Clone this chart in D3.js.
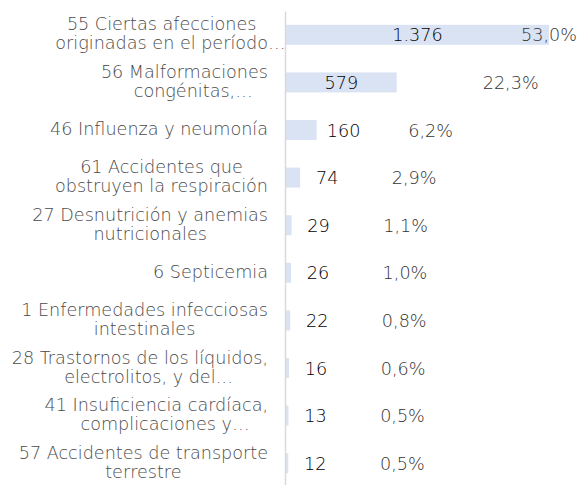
<!DOCTYPE html>
<html>
<head>
<meta charset="utf-8">
<script src="https://cdn.jsdelivr.net/npm/d3@7"></script>
<style>
  body { margin: 0; background: #fff; }
  svg { display: block; font-family: "DejaVu Sans", sans-serif; font-weight: 200; }
</style>
</head>
<body>
<div id="chart"></div>
<script>
// data
var categories = [
  "55 Ciertas afecciones\noriginadas en el período…",
  "56 Malformaciones\ncongénitas,…",
  "46 Influenza y neumonía",
  "61 Accidentes que\nobstruyen la respiración",
  "27 Desnutrición y anemias\nnutricionales",
  "6 Septicemia",
  "1 Enfermedades infecciosas\nintestinales",
  "28 Trastornos de los líquidos,\nelectrolitos, y del…",
  "41 Insuficiencia cardíaca,\ncomplicaciones y…",
  "57 Accidentes de transporte\nterrestre"
];
var values = [1376, 579, 160, 74, 29, 26, 22, 16, 13, 12];
var valueLabels = ["1.376", "579", "160", "74", "29", "26", "22", "16", "13", "12"];
var percentLabels = ["53,0%", "22,3%", "6,2%", "2,9%", "1,1%", "1,0%", "0,8%", "0,6%", "0,5%", "0,5%"];

var width = 588, height = 485;
var fontSize = 17.6, lineH = 19;
var labelRight = 268;

var svg = d3.select("#chart").append("svg")
    .attr("width", width)
    .attr("height", height);

var x = d3.scaleLinear()
    .domain([0, d3.max(values)])
    .range([286, 549]);

var y = d3.scaleBand()
    .domain(d3.range(values.length))
    .range([11, 487])
    .paddingInner(0.58)
    .paddingOuter(0.29);

// bars
svg.selectAll("rect.bar")
    .data(values)
    .enter()
    .append("rect")
    .attr("class", "bar")
    .attr("x", x(0))
    .attr("y", function(d, i) { return y(i); })
    .attr("width", function(d) { return x(d) - x(0); })
    .attr("height", y.bandwidth())
    .style("fill", "#dae3f3");

// vertical axis line, no ticks
var axis = svg.append("g")
    .attr("transform", "translate(" + (x(0) - 1) + ",0)")
    .call(d3.axisLeft(y).tickSize(0).tickSizeOuter(0).tickFormat(""));
axis.select(".domain").attr("stroke", "#d9d9d9").attr("stroke-width", 1.5);

// category labels, multi-line, lines centred in a block that is right aligned
var cat = svg.selectAll("text.cat")
    .data(categories)
    .enter()
    .append("text")
    .attr("class", "cat")
    .attr("font-size", fontSize)
    .style("fill", "#4a4a4a")
    .attr("text-anchor", "middle");

cat.each(function(d, i) {
    var t = d3.select(this);
    var lines = d.split("\n");
    var cy = y(i) + y.bandwidth() / 2;
    // measure lines without the trailing ellipsis (it overflows like in Excel)
    var widths = lines.map(function(l) {
        var tmp = svg.append("text").attr("font-size", fontSize).text(l.replace(/…$/, ""));
        var w = tmp.node().getComputedTextLength();
        tmp.remove();
        return w;
    });
    var blockW = d3.max(widths);
    var cx = labelRight - blockW / 2;
    lines.forEach(function(l, k) {
        var w = widths[k];
        var full = svg.append("text").attr("font-size", fontSize).text(l);
        var fw = full.node().getComputedTextLength();
        full.remove();
        t.append("tspan")
            .attr("x", cx + (fw - w) / 2)
            .attr("y", cy + (k - (lines.length - 1) / 2) * lineH + 5)
            .text(l);
    });
});

// value labels: centred in long bars, just past the end of short ones
function valueX(d) {
    return (x(d) - x(0) > 100) ? (x(0) + x(d)) / 2 : x(d) + 27;
}
svg.selectAll("text.val")
    .data(values)
    .enter()
    .append("text")
    .attr("class", "val")
    .attr("font-size", fontSize)
    .attr("text-anchor", "middle")
    .attr("x", valueX)
    .attr("y", function(d, i) { return y(i) + y.bandwidth() / 2 + 6.5; })
    .style("fill", "#000")
    .text(function(d, i) { return valueLabels[i]; });

// percentage labels
function pctX(d) {
    var px = x(d) + 114;
    return (px + 30 > width) ? x(d) : px;
}
svg.selectAll("text.pct")
    .data(values)
    .enter()
    .append("text")
    .attr("class", "pct")
    .attr("font-size", fontSize)
    .attr("text-anchor", "middle")
    .attr("x", pctX)
    .attr("y", function(d, i) { return y(i) + y.bandwidth() / 2 + 6.5; })
    .style("fill", "#333")
    .text(function(d, i) { return percentLabels[i]; });
</script>
</body>
</html>
